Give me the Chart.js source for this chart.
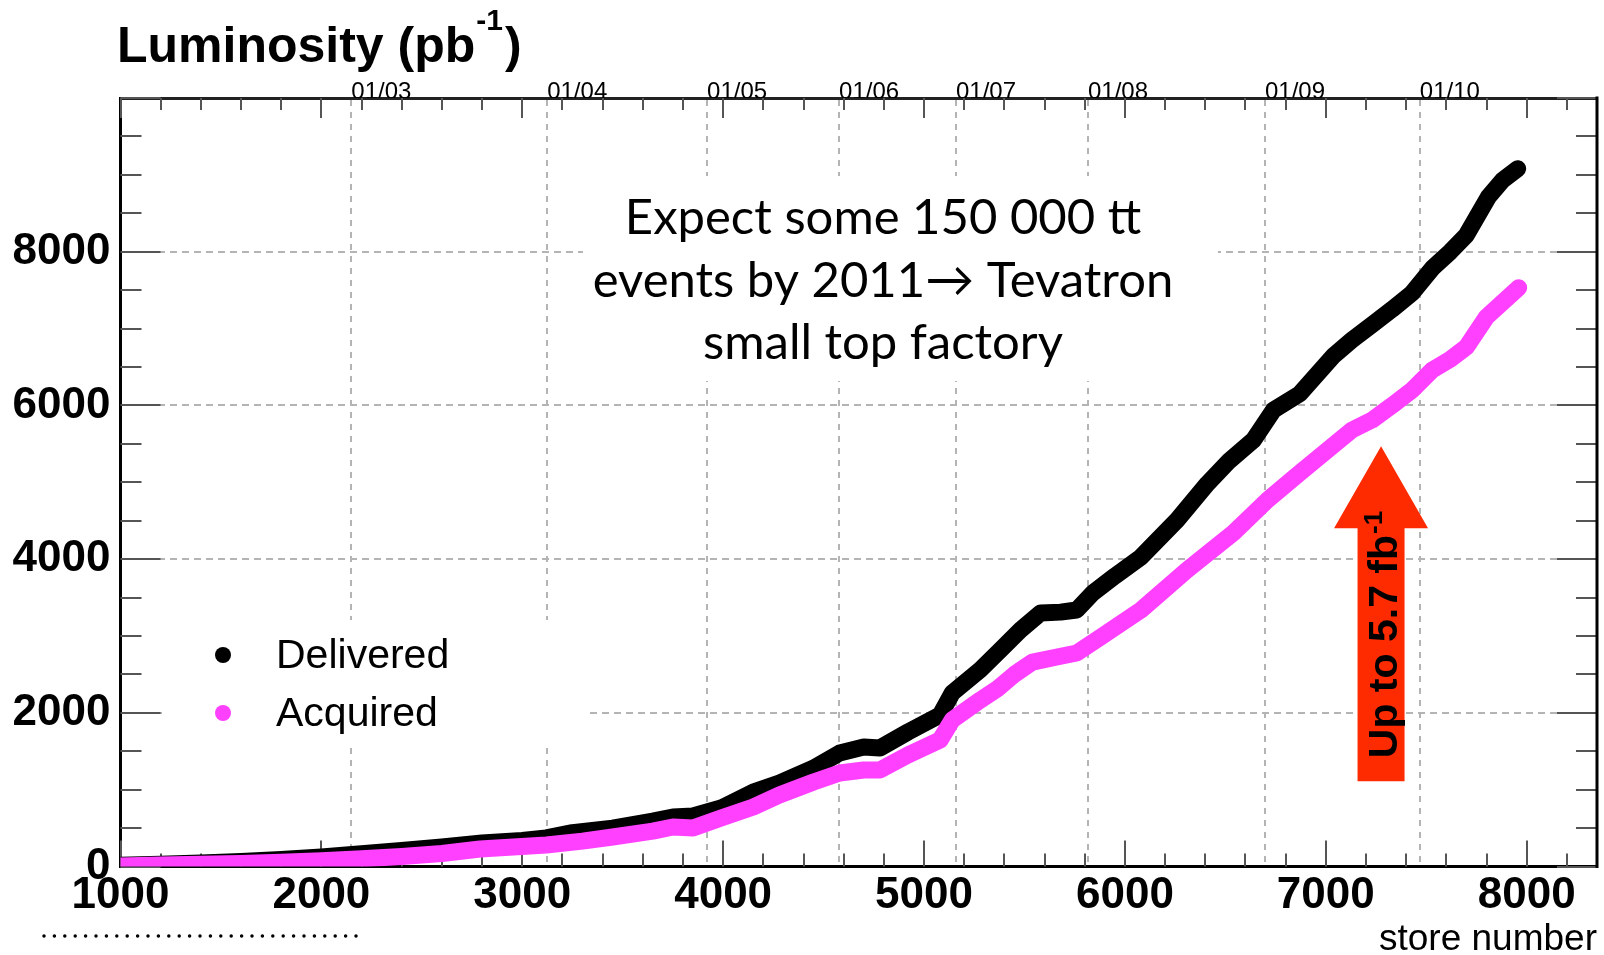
<!DOCTYPE html>
<html>
<head>
<meta charset="utf-8">
<script src="https://cdn.jsdelivr.net/npm/chart.js@4.4.0/dist/chart.umd.min.js"></script>
<style>
  html, body { margin: 0; padding: 0; background: #fff; }
  #wrap { width: 1604px; height: 955px; }
</style>
</head>
<body>
<div id="wrap"><canvas id="lumiChart"></canvas></div>
<script>
// Integrated luminosity per store (pb^-1)
const deliveredStore = [1000, 1200, 1400, 1600, 1800, 2000, 2200, 2400, 2600, 2800, 3000, 3120, 3250, 3450, 3650,
  3750, 3850, 3990, 4150, 4280, 4450, 4580, 4700, 4780, 4920, 5080, 5140, 5280, 5380, 5480, 5580, 5680, 5760,
  5840, 5950, 6080, 6260, 6410, 6520, 6640, 6740, 6870, 7040, 7130, 7230, 7330, 7430, 7530, 7620, 7700, 7810,
  7880, 7955];
const deliveredLumi = [15, 30, 45, 65, 90, 125, 165, 210, 255, 306, 340, 372, 440, 500, 590,
  644, 657, 761, 969, 1086, 1281, 1477, 1555, 1542, 1750, 1971, 2257, 2560, 2817, 3077, 3299, 3310, 3338,
  3559, 3780, 4027, 4509, 4980, 5280, 5550, 5940, 6150, 6650, 6850, 7050, 7250, 7463, 7784, 8000, 8217, 8716,
  8930, 9080];

const acquiredStore = [1000, 1200, 1400, 1600, 1800, 2000, 2200, 2400, 2600, 2790, 3120, 3300, 3450, 3650, 3750,
  3850, 3990, 4150, 4280, 4450, 4580, 4700, 4780, 4920, 5080, 5140, 5280, 5370, 5450, 5540, 5650, 5760, 5880,
  6080, 6310, 6540, 6710, 6870, 7000, 7130, 7230, 7330, 7430, 7530, 7620, 7700, 7800, 7960];
const acquiredLumi = [8, 18, 28, 40, 55, 75, 100, 130, 170, 228, 280, 330, 384, 460, 514,
  501, 631, 774, 930, 1100, 1217, 1256, 1256, 1451, 1646, 1906, 2166, 2322, 2500, 2660, 2720, 2778, 2986,
  3338, 3859, 4340, 4769, 5120, 5400, 5680, 5810, 6000, 6200, 6461, 6600, 6760, 7150, 7530];

const seriesNames = ['Delivered', 'Acquired'];
const seriesColors = ['#000000', '#ff40ff'];

// first store of each new year, shown on the top axis
const yearStore = [2149, 3124, 3920, 4577, 5159, 5816, 6697, 7468];
const yearLabel = ['01/03', '01/04', '01/05', '01/06', '01/07', '01/08', '01/09', '01/10'];

// red arrow marking the acquired total
const arrowStore = 7275;
const arrowFrom = 1110;
const arrowTo = 5470;
const arrowText = 'Up to 5.7 fb';

const noteLines = ['Expect some 150 000 tt', 'events by 2011\u2192 Tevatron', 'small top factory'];

const SANS = '"Liberation Sans", Arial, sans-serif';

function drawSup(ctx, main, sup, x, y, mainFont, supFont, rise) {
  ctx.font = mainFont;
  ctx.fillText(main, x, y);
  const w = ctx.measureText(main).width;
  ctx.font = supFont;
  ctx.fillText(sup, x + w + 1, y - rise);
  return x + w + 1 + ctx.measureText(sup).width;
}

const decor = {
  id: 'decor',
  beforeDatasetsDraw(chart) {
    const {ctx, chartArea: a, scales: {x, y}} = chart;
    ctx.save();
    // white panels behind the note and the legend
    ctx.fillStyle = '#fff';
    ctx.fillRect(583, 176, 635, 205);
    ctx.fillRect(162, 620, 425, 122);

    // inward tick marks on all four sides
    ctx.strokeStyle = '#555';
    ctx.lineWidth = 2;
    ctx.beginPath();
    for (let v = x.min; v <= x.max; v += 200) {
      const px = Math.round(x.getPixelForValue(v));
      const big = v % 1000 === 0;
      ctx.moveTo(px, a.bottom);
      ctx.lineTo(px, a.bottom - (big ? 26 : 13));
      ctx.moveTo(px, a.top);
      ctx.lineTo(px, a.top + (big ? 20 : 12));
    }
    for (let v = y.min; v <= y.max; v += 500) {
      const py = Math.round(y.getPixelForValue(v));
      const big = v % 2000 === 0;
      ctx.moveTo(a.left, py);
      ctx.lineTo(a.left + (big ? 40 : 21), py);
      ctx.moveTo(a.right, py);
      ctx.lineTo(a.right - (big ? 40 : 21), py);
    }
    ctx.stroke();

    // right frame edge
    ctx.strokeStyle = '#000';
    ctx.lineWidth = 3;
    ctx.beginPath();
    ctx.moveTo(a.right, a.top - 1.5);
    ctx.lineTo(a.right, a.bottom + 1.5);
    ctx.stroke();
    ctx.restore();
  },
  afterDatasetsDraw(chart) {
    const {ctx, scales: {x, y}} = chart;
    ctx.save();
    ctx.fillStyle = '#000';
    ctx.textAlign = 'left';
    ctx.textBaseline = 'alphabetic';

    // axis caption
    let end = drawSup(ctx, 'Luminosity (pb', '-1', 117, 62, 'bold 50px ' + SANS, 'bold 30px ' + SANS, 32);
    ctx.font = 'bold 50px ' + SANS;
    ctx.fillText(')', end + 2, 62);

    // legend
    chart.data.datasets.forEach((ds, i) => {
      const cy = 655 + i * 58;
      ctx.fillStyle = ds.borderColor;
      ctx.beginPath();
      ctx.arc(223, cy, 8, 0, Math.PI * 2);
      ctx.fill();
      ctx.fillStyle = '#000';
      ctx.font = '41px ' + SANS;
      ctx.fillText(ds.label, 276, cy + 13);
    });

    // note
    ctx.font = '49px Lato, "Open Sans", sans-serif';
    ctx.textAlign = 'center';
    noteLines.forEach((t, i) => ctx.fillText(t, 883, 234 + i * 62.5));

    // arrow
    const ax = x.getPixelForValue(arrowStore);
    const yTip = y.getPixelForValue(arrowTo);
    const yBase = y.getPixelForValue(arrowFrom);
    const headLen = 82, shaftHalf = 23.5, headHalf = 47;
    ctx.fillStyle = '#ff2b00';
    ctx.beginPath();
    ctx.moveTo(ax - shaftHalf, yBase);
    ctx.lineTo(ax - shaftHalf, yTip + headLen);
    ctx.lineTo(ax - headHalf, yTip + headLen);
    ctx.lineTo(ax, yTip);
    ctx.lineTo(ax + headHalf, yTip + headLen);
    ctx.lineTo(ax + shaftHalf, yTip + headLen);
    ctx.lineTo(ax + shaftHalf, yBase);
    ctx.closePath();
    ctx.fill();

    ctx.save();
    ctx.translate(ax + 16, yBase - 23);
    ctx.rotate(-Math.PI / 2);
    ctx.fillStyle = '#000';
    ctx.textAlign = 'left';
    drawSup(ctx, arrowText, '-1', 0, 0, 'bold 41px ' + SANS, 'bold 26px ' + SANS, 15);
    ctx.restore();

    // dotted rule under the axis
    ctx.strokeStyle = '#000';
    ctx.lineWidth = 3.5;
    ctx.lineCap = 'round';
    ctx.setLineDash([0, 10.4]);
    ctx.beginPath();
    ctx.moveTo(44, 936);
    ctx.lineTo(356, 936);
    ctx.stroke();
    ctx.restore();
  }
};

const tickFont = { family: 'Liberation Sans', size: 44, weight: 'bold' };

new Chart(document.getElementById('lumiChart'), {
  type: 'line',
  data: {
    datasets: [
      {
        label: seriesNames[0],
        data: deliveredStore.map((s, i) => ({ x: s, y: deliveredLumi[i] })),
        borderColor: seriesColors[0],
        backgroundColor: seriesColors[0],
        borderWidth: 17,
        pointRadius: 0,
        tension: 0,
        borderCapStyle: 'round',
        borderJoinStyle: 'round',
        order: 2
      },
      {
        label: seriesNames[1],
        data: acquiredStore.map((s, i) => ({ x: s, y: acquiredLumi[i] })),
        borderColor: seriesColors[1],
        backgroundColor: seriesColors[1],
        borderWidth: 17,
        pointRadius: 0,
        tension: 0,
        borderCapStyle: 'round',
        borderJoinStyle: 'round',
        order: 1
      }
    ]
  },
  options: {
    responsive: true,
    maintainAspectRatio: false,
    animation: false,
    layout: { padding: { top: 60, right: 7, bottom: 0, left: 0 } },
    plugins: { legend: { display: false }, tooltip: { enabled: false } },
    scales: {
      x: {
        type: 'linear',
        position: 'bottom',
        min: 1000,
        max: 8350,
        grid: { display: false },
        border: { display: true, color: '#000', width: 3 },
        ticks: {
          stepSize: 200,
          autoSkip: false,
          maxRotation: 0,
          padding: -5,
          color: '#000',
          font: tickFont,
          callback: v => (v % 1000 === 0 ? String(v) : '')
        },
        title: {
          display: true,
          text: 'store number',
          align: 'end',
          color: '#000',
          font: { family: 'Liberation Sans', size: 37 },
          padding: { top: 0, bottom: -7 }
        },
        afterFit: s => { s.height = 88.5; }
      },
      xTop: {
        type: 'linear',
        position: 'top',
        min: 1000,
        max: 8350,
        afterBuildTicks: s => { s.ticks = yearStore.map(v => ({ value: v })); },
        grid: { color: '#b4b4b4', lineWidth: 2, drawTicks: false },
        border: { display: true, color: '#222', width: 3, dash: [6, 6] },
        ticks: {
          autoSkip: false,
          maxRotation: 0,
          align: 'start',
          padding: -9,
          color: '#000',
          font: { family: 'Liberation Sans', size: 24 },
          callback: (v, i) => yearLabel[i]
        },
        afterFit: s => { s.height = 38; }
      },
      y: {
        min: 0,
        max: 10000,
        grid: {
          color: c => (c.tick && c.tick.value % 2000 === 0 && c.tick.value > 0 && c.tick.value < 10000)
            ? '#b4b4b4' : 'rgba(0,0,0,0)',
          lineWidth: 2,
          drawTicks: false
        },
        border: { display: true, color: '#000', width: 3, dash: [7, 5] },
        ticks: {
          stepSize: 500,
          autoSkip: false,
          padding: 10,
          color: '#000',
          font: tickFont,
          callback: v => (v % 2000 === 0 && v < 10000 ? String(v) : '')
        },
        afterFit: s => { s.width = 120.5; }
      }
    }
  },
  plugins: [decor]
});
</script>
</body>
</html>
